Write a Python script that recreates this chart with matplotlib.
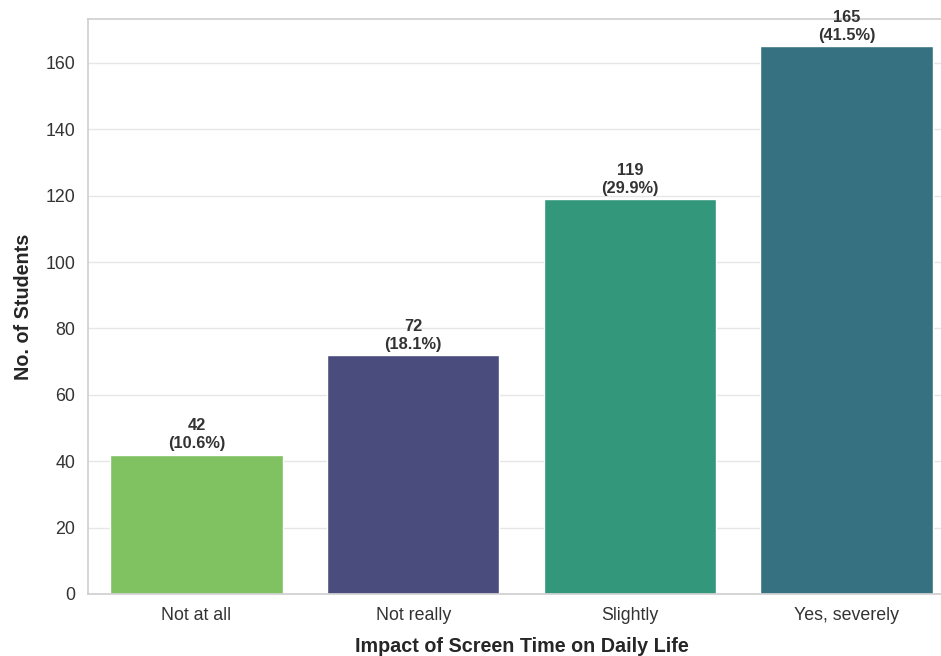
import matplotlib
matplotlib.use("Agg")
import matplotlib.pyplot as plt
import seaborn as sns
import numpy as np

categories = ["Not at all", "Not really", "Slightly", "Yes, severely"]
counts = [42, 72, 119, 165]
percents = [10.6, 18.1, 29.9, 41.5]
# viridis positions assigned to each category
palette_pos = [3, 0, 2, 1]

sns.set_theme(style="whitegrid")
plt.rcParams["font.family"] = ["Liberation Sans", "DejaVu Sans"]

base = sns.color_palette("viridis", 4)
colors = [sns.desaturate(base[i], 0.75) for i in palette_pos]

fig = plt.figure(figsize=(9.41, 6.56), dpi=100)
# the right edge of the axes runs slightly past the figure, as in the reference crop
ax = fig.add_axes([88 / 941, 1 - 594 / 656, (955 - 88) / 941, (594 - 19) / 656])

x = np.arange(len(categories))
ax.bar(x, counts, width=0.795, color=colors, zorder=2)
ax.set_xlim(-0.5, len(categories) - 0.5)
ax.set_ylim(0, max(counts) * 1.05)
ax.set_xticks(x, categories)
ax.set_yticks(np.arange(0, 161, 20))
ax.tick_params(axis="both", labelsize=12.8, colors="#333333", pad=3)
ax.grid(axis="x", visible=False)
ax.grid(axis="y", color="#e6e6e6", lw=1)
for s in ax.spines.values():
    s.set_color("#d0d0d0")

for xi, c, p in zip(x, counts, percents):
    ax.text(xi, c + 1.0, f"{c}\n({p}%)", ha="center", va="bottom",
            fontsize=11.8, fontweight="bold", color="#333333", linespacing=1.25)

ax.set_xlabel("Impact of Screen Time on Daily Life", fontsize=14.2,
              fontweight="bold", color="#262626", labelpad=10)
ax.set_ylabel("No. of Students", fontsize=14.2, fontweight="bold",
              color="#262626", labelpad=9)

fig.savefig("out.png", dpi=100)
